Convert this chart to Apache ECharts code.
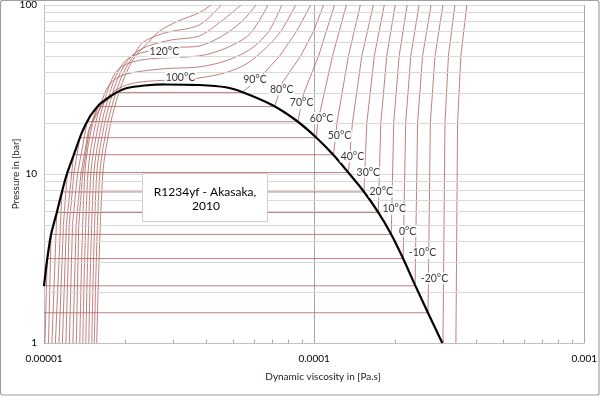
<!DOCTYPE html>
<html>
<head>
<meta charset="utf-8">
<script src="https://cdn.jsdelivr.net/npm/echarts@6/dist/echarts.min.js"></script>
<style>
html,body{margin:0;padding:0;background:#fff;}
#chart{width:600px;height:396px;}
</style>
</head>
<body>
<div id="chart"></div>
<script>
// ---- data: viscosity in µPa·s, pressure in bar ----
const xTickLabels = ['0.00001', '0.0001', '0.001'];
const yTickLabels = ['1', '10', '100'];
const xMinorTicks = [2e-5,3e-5,4e-5,5e-5,6e-5,7e-5,8e-5,9e-5,2e-4,3e-4,4e-4,5e-4,6e-4,7e-4,8e-4,9e-4];
const yMinorGrid = [2,3,4,5,6,7,8,9,20,30,40,50,60,70,80,90];

const saturationDome = [[10.0,2.17],[10.23,2.97],[10.61,4.36],[11.14,5.88],[11.65,7.83],[12.12,9.86],[12.82,12.66],[13.77,17.41],[14.77,21.83],[15.41,23.92],[16.08,25.96],[17.03,27.79],[18.27,29.95],[20.16,32.15],[23.55,33.4],[28.3,33.95],[37.55,33.63],[47.1,32.6],[54.1,30.57],[69.9,25.6],[85.4,20.87],[101.1,16.62],[118.0,12.95],[134.0,10.18],[152.2,7.93],[172.8,5.93],[193.5,4.36],[213.6,3.16],[236.5,2.20],[264.1,1.505],[298.2,1.0]];

const iso_m40 = [[334.9,1],[339.7,20],[349.4,50],[367.6,100]];
const iso_m30 = [[299.9,1],[305.1,20],[314.3,50],[332.0,100]];
const iso_m20 = [[10.0,1.51],[264.1,1.51],[269.3,20],[280.3,50],[299.9,100]];
const iso_m10 = [[10.02,2.18],[236.5,2.18],[241.6,20],[252.1,50],[270.9,100]];
const iso_0   = [[10.08,1],[10.28,3.16],[213.6,3.16],[218.3,20],[228.0,50],[244.7,100]];
const iso_10  = [[10.39,1],[10.62,4.39],[193.0,4.39],[197.1,20],[206.5,50],[221.0,100]];
const iso_20  = [[10.70,1],[11.15,5.92],[172.8,5.92],[176.6,20],[185.8,50],[199.6,100]];
const iso_30  = [[11.02,1],[11.65,7.83],[153.0,7.83],[156.7,20],[167.1,50],[181.9,100]];
const iso_40  = [[11.36,1],[11.8,5],[12.2,10.2],[134.0,10.2],[138.6,20],[150.2,50],[165.7,100]];
const iso_50  = [[11.70,1],[12.1,5],[12.87,13.0],[118.0,13.0],[121.5,20],[134.0,50],[148.3,100]];
const iso_60  = [[12.05,1],[12.4,5],[12.9,10],[13.57,16.4],[102.0,16.4],[103.0,20],[117.0,50],[131.7,100]];
const iso_70  = [[12.41,1],[12.75,5],[13.3,10],[14.45,20.4],[87.0,20.4],[91.5,30],[103.9,50],[119.0,100]];
const iso_80  = [[12.79,1],[13.15,5],[13.7,10],[14.6,18],[15.8,25.1],[71.4,25.1],[76.6,35],[89.2,50],[99.6,70],[108.4,100]];
const iso_90  = [[13.17,1],[13.45,5],[13.9,10],[14.7,18],[15.9,25],[18.6,30.4],[54.1,30.4],[60.4,35],[65.7,40],[74.6,50],[86.2,70],[97.1,100]];
const iso_100 = [[13.57,1],[14.16,10],[15.15,20],[16.3,25],[17.8,30],[19.6,33],[22.57,35],[29.12,36],[37.55,37],[47.61,40],[56.41,45],[65.7,55],[75.3,70],[85.5,100]];
const iso_110 = [[13.92,1],[14.53,10],[15.54,20],[16.77,30],[17.80,35],[19.38,38.2],[21.64,40],[27.91,42],[37.55,43],[47.61,47],[58.35,55],[68.0,70],[75.9,100]];
const iso_120 = [[14.28,1],[14.90,10],[15.94,20],[17.06,30],[18.42,40],[20.39,45],[24.57,48],[37.55,50],[46.42,55],[56.41,65],[62.46,80],[67.4,100]];
const iso_130 = [[14.65,1],[15.29,10],[16.36,20],[17.50,30],[18.73,40],[20.39,48],[23.55,52.7],[30.38,56],[37.55,57.2],[45.25,65],[54.08,80],[60.88,100]];
const iso_140 = [[15.03,1],[15.67,10],[16.77,20],[17.95,30],[19.21,40],[21.09,50],[24.16,57],[29.62,62.1],[37.55,65.5],[45.25,80],[53.62,100]];
const iso_150 = [[15.35,1],[16.08,10],[17.21,20],[18.42,30],[19.71,40],[21.45,50],[23.2,60],[27.91,68.3],[37.55,76.1],[45.25,100]];
const iso_160 = [[15.67,1],[16.50,10],[17.65,20],[18.89,30],[20.22,40],[21.83,50],[24.3,60],[26.75,70],[31.16,80],[37.55,90],[41.56,100]];

const subcritical = [iso_m40, iso_m30, iso_m20, iso_m10, iso_0, iso_10, iso_20, iso_30, iso_40, iso_50, iso_60, iso_70, iso_80, iso_90];
const supercritical = [iso_100, iso_110, iso_120, iso_130, iso_140, iso_150, iso_160];

const labelTexts = ['120°C','100°C','90°C','80°C','70°C','60°C','50°C','40°C','30°C','20°C','10°C','0°C','-10°C','-20°C'];
const labelMu    = [27.9, 32.0, 60.4, 75.9, 89.9, 106.6, 124.2, 138.6, 158.8, 177.3, 197.9, 221.9, 252.1, 279.1];
const labelP     = [52.7, 37.2, 36.0, 31.6, 26.3, 21.4, 16.8, 12.69, 10.21, 7.88, 6.21, 4.57, 3.41, 2.41];

// ---- build ----
const toPa = pts => pts.map(([mu, p]) => [mu * 1e-6, p]);
const FONT = 'Lato';
const RED = '#b0605d';

const series = [];
series.push({
  type: 'line', data: [], z: 1, silent: true,
  markLine: {
    silent: true, symbol: 'none', animation: false,
    label: { show: false },
    lineStyle: { color: '#d9d9d9', width: 1, type: 'solid' },
    data: yMinorGrid.map(v => ({ yAxis: v }))
  }
});
series.push({
  type: 'line', data: [], z: 1, silent: true,
  markLine: {
    silent: true, symbol: 'none', animation: false,
    label: { show: false },
    lineStyle: { color: '#a6a6a6', width: 1, type: 'solid' },
    data: xMinorTicks.map(v => [{ coord: [v, 1] }, { coord: [v, 1.045] }])
  }
});
subcritical.forEach(iso => series.push({
  type: 'line', data: toPa(iso), showSymbol: false, smooth: false,
  lineStyle: { color: RED, width: 0.8 }, z: 3
}));
supercritical.forEach(iso => series.push({
  type: 'line', data: toPa(iso), showSymbol: false, smooth: 0.3,
  lineStyle: { color: RED, width: 0.8 }, z: 3
}));
series.push({
  type: 'line', data: toPa(saturationDome), showSymbol: false, smooth: 0.2,
  lineStyle: { color: '#000', width: 2.2 }, z: 5
});
series.push({
  type: 'scatter', symbolSize: 0, z: 10,
  data: labelTexts.map((t, i) => ({ value: [labelMu[i] * 1e-6, labelP[i]], name: t })),
  label: {
    show: true, position: 'inside', formatter: p => p.name,
    color: '#000', fontSize: 10.5, fontFamily: FONT,
    backgroundColor: '#fff', padding: [1, 1, 0, 1]
  }
});

const chart = echarts.init(document.getElementById('chart'), null, { renderer: 'canvas' });
chart.setOption({
  animation: false,
  backgroundColor: '#fff',
  grid: { left: 44, right: 13, top: 5, bottom: 53 },
  xAxis: {
    type: 'log', logBase: 10, min: 1e-5, max: 1e-3,
    axisLine: { show: true, lineStyle: { color: '#bfbfbf' } },
    axisTick: { show: false },
    axisLabel: {
      margin: 11, fontSize: 10, color: '#000', fontFamily: FONT,
      formatter: v => xTickLabels[Math.round(Math.log10(v)) + 5]
    },
    splitLine: { show: true, lineStyle: { color: '#a6a6a6', width: 1 } }
  },
  yAxis: {
    type: 'log', logBase: 10, min: 1, max: 100,
    axisLine: { show: true, lineStyle: { color: '#bfbfbf' } },
    axisTick: { show: false },
    axisLabel: {
      margin: 7, fontSize: 10, color: '#000', fontFamily: FONT,
      formatter: v => yTickLabels[Math.round(Math.log10(v))]
    },
    splitLine: { show: true, lineStyle: { color: '#d9d9d9', width: 1 } }
  },
  series: series,
  graphic: [
    { type: 'rect', shape: { x: 0.5, y: 0.5, width: 598.5, height: 394.5, r: 2 },
      style: { fill: 'none', stroke: '#a0a0a0', lineWidth: 1.2 }, z: 100, silent: true },
    { type: 'rect', shape: { x: 142.5, y: 173.5, width: 125, height: 48 },
      style: { fill: '#fff', stroke: '#cfcfcf', lineWidth: 1 }, z: 50 },
    { type: 'text', x: 205, y: 192, z: 51,
      style: { text: 'R1234yf - Akasaka,', font: '12px Lato', fill: '#000', textAlign: 'center', textVerticalAlign: 'middle' } },
    { type: 'text', x: 206, y: 206.5, z: 51,
      style: { text: '2010', font: '12px Lato', fill: '#000', textAlign: 'center', textVerticalAlign: 'middle' } },
    { type: 'text', x: 16, y: 174, rotation: Math.PI / 2, z: 51,
      style: { text: 'Pressure in [bar]', font: '10px Lato', fill: '#1a1a2e', textAlign: 'center', textVerticalAlign: 'middle' } },
    { type: 'text', x: 323, y: 377, z: 51,
      style: { text: 'Dynamic viscosity in [Pa.s]', font: '10px Lato', fill: '#1a1a2e', textAlign: 'center', textVerticalAlign: 'middle' } }
  ]
});
</script>
</body>
</html>
